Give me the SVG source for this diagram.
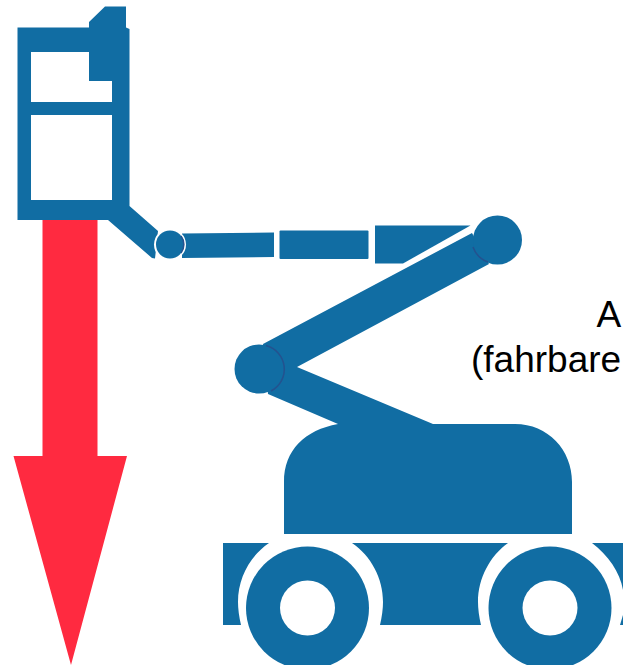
<svg xmlns="http://www.w3.org/2000/svg" width="623" height="665" viewBox="0 0 623 665">
<style>
.b{fill:#116da3}
.w{fill:#fff}
.d{fill:none;stroke:#24528f;stroke-width:1.5}
.t{font-family:"Liberation Sans",Arial,sans-serif;font-size:37px;fill:#000}
</style>
<rect width="623" height="665" fill="#fff"/>
<g id="arrow"><path d="M42.500 219H97.500V456H127L71 665L13.500 456H42.500Z" fill="#ff2a40"/></g>
<g id="basket">
<path class="b" fill-rule="evenodd" d="M17.500 27.500H89V22L105 6.500H126V27.500L129.500 29V206L158 231L155 258.500L152 258L108 220H17.500ZM31 52V102H112V81H89V52ZM31 115V200H112V115Z"/>
</g>
<g id="boom">
<path class="b" d="M182 233.500L274 232.500V257L182 258Z"/>
<rect class="b" x="279.500" y="230.500" width="89" height="28.500" rx="1"/>
<path class="b" d="M375 225.500H470.500L403 263.500H375Z"/>
</g>
<g id="joint-top"><circle class="w" cx="170" cy="244.500" r="16"/><circle class="b" cx="170" cy="244.500" r="14"/><path class="d" d="M181 236A14 14 0 0 1 181 253"/></g>
<g id="arm">
<path class="b" d="M263 344L472 233L489 264L297 367L433 424H515C548 424 572 450 572 482V534H284V482C284 450 305 430 338 424L268 394Z"/>
</g>
<g id="joint-upper"><circle class="b" cx="497.500" cy="240" r="24.500"/><path class="d" d="M473 247A24.500 24.500 0 0 0 488 262"/></g>
<g id="joint-lower"><circle class="b" cx="259" cy="369" r="24.500"/><path class="d" d="M266 345.500A24.500 24.500 0 0 1 271 391"/></g>
<g id="chassis">
<path class="b" d="M223 543H269C250 556 238 578 238 602Q238 612 241 625H223Z"/>
<path class="b" d="M352 543H508C490 556 478 578 478 602Q478 612 481 625H380Q383 612 383 602C383 578 371 556 352 543Z"/>
<path class="b" d="M592 543H623V590C620 572 608 555 592 543Z"/>
<path class="b" d="M623 625H620L623 615Z"/>
</g>
<g id="wheel-left"><circle class="b" cx="307.500" cy="608" r="61.500"/><circle class="w" cx="307.500" cy="608" r="27.500"/></g>
<g id="wheel-right"><circle class="b" cx="550" cy="608" r="61.500"/><circle class="w" cx="550" cy="608" r="27.500"/></g>
<g id="label">
<text class="t" x="596.500" y="327">A</text>
<text class="t" x="471" y="372">(fahrbare</text>
</g>
</svg>
